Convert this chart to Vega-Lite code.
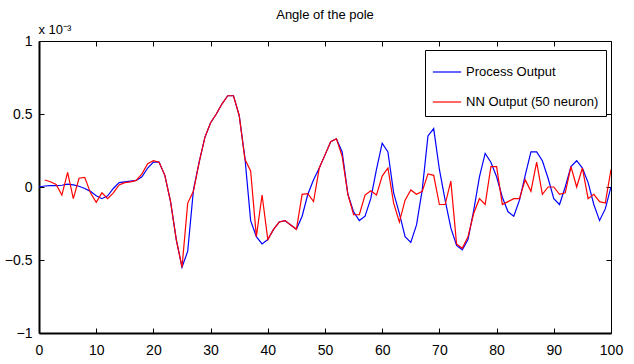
{
  "$schema": "https://vega.github.io/schema/vega-lite/v6.json",
  "width": 572,
  "height": 292,
  "autosize": "none",
  "padding": {"left": 39, "top": 41, "right": 23, "bottom": 31},
  "background": "white",
  "title": {"text": "Angle of the pole", "fontSize": 13, "fontWeight": "normal", "font": "Liberation Sans Narrow, Liberation Sans, Arial", "color": "black", "anchor": "middle", "offset": 1},
  "data": {"values": [
    {"x":0,"p":0.0,"n":null},{"x":1,"p":0.007,"n":0.048},{"x":2,"p":0.01,"n":0.036},{"x":3,"p":0.01,"n":0.018},{"x":4,"p":0.012,"n":-0.055},
    {"x":5,"p":0.02,"n":0.10},{"x":6,"p":0.015,"n":-0.08},{"x":7,"p":0.005,"n":0.06},{"x":8,"p":-0.01,"n":0.066},{"x":9,"p":-0.03,"n":-0.04},
    {"x":10,"p":-0.06,"n":-0.105},{"x":11,"p":-0.08,"n":-0.04},{"x":12,"p":-0.06,"n":-0.08},{"x":13,"p":-0.01,"n":-0.04},{"x":14,"p":0.03,"n":0.014},
    {"x":15,"p":0.035,"n":0.03},{"x":16,"p":0.04,"n":0.035},{"x":17,"p":0.045,"n":0.045},{"x":18,"p":0.07,"n":0.09},{"x":19,"p":0.13,"n":0.16},
    {"x":20,"p":0.17,"n":0.18},{"x":21,"p":0.17,"n":0.17},{"x":22,"p":0.08,"n":0.08},{"x":23,"p":-0.10,"n":-0.10},{"x":24,"p":-0.36,"n":-0.36},
    {"x":25,"p":-0.55,"n":-0.55},{"x":26,"p":-0.44,"n":-0.11},{"x":27,"p":-0.02,"n":-0.03},{"x":28,"p":0.17,"n":0.17},{"x":29,"p":0.34,"n":0.34},
    {"x":30,"p":0.44,"n":0.44},{"x":31,"p":0.50,"n":0.50},{"x":32,"p":0.57,"n":0.57},{"x":33,"p":0.625,"n":0.625},{"x":34,"p":0.625,"n":0.625},
    {"x":35,"p":0.49,"n":0.49},{"x":36,"p":0.20,"n":0.19},{"x":37,"p":-0.23,"n":0.11},{"x":38,"p":-0.34,"n":-0.34},{"x":39,"p":-0.39,"n":-0.055},
    {"x":40,"p":-0.36,"n":-0.36},{"x":41,"p":-0.29,"n":-0.29},{"x":42,"p":-0.24,"n":-0.24},{"x":43,"p":-0.23,"n":-0.23},{"x":44,"p":-0.26,"n":-0.26},
    {"x":45,"p":-0.29,"n":-0.29},{"x":46,"p":-0.20,"n":-0.05},{"x":47,"p":-0.05,"n":-0.045},{"x":48,"p":0.05,"n":-0.10},{"x":49,"p":0.13,"n":0.13},
    {"x":50,"p":0.22,"n":0.22},{"x":51,"p":0.31,"n":0.31},{"x":52,"p":0.33,"n":0.33},{"x":53,"p":0.24,"n":0.21},{"x":54,"p":-0.05,"n":-0.05},
    {"x":55,"p":-0.17,"n":-0.19},{"x":56,"p":-0.23,"n":-0.19},{"x":57,"p":-0.20,"n":-0.055},{"x":58,"p":-0.08,"n":-0.025},{"x":59,"p":0.12,"n":-0.055},
    {"x":60,"p":0.30,"n":0.075},{"x":61,"p":0.24,"n":0.13},{"x":62,"p":-0.04,"n":-0.11},{"x":63,"p":-0.18,"n":-0.24},{"x":64,"p":-0.34,"n":-0.09},
    {"x":65,"p":-0.38,"n":-0.02},{"x":66,"p":-0.26,"n":-0.05},{"x":67,"p":-0.02,"n":-0.03},{"x":68,"p":0.35,"n":0.09},{"x":69,"p":0.40,"n":0.08},
    {"x":70,"p":0.12,"n":-0.12},{"x":71,"p":-0.09,"n":-0.12},{"x":72,"p":-0.28,"n":0.04},{"x":73,"p":-0.40,"n":-0.39},{"x":74,"p":-0.43,"n":-0.42},
    {"x":75,"p":-0.36,"n":-0.34},{"x":76,"p":-0.16,"n":-0.18},{"x":77,"p":0.07,"n":-0.08},{"x":78,"p":0.23,"n":-0.12},{"x":79,"p":0.17,"n":0.14},
    {"x":80,"p":0.07,"n":0.14},{"x":81,"p":-0.07,"n":-0.12},{"x":82,"p":-0.17,"n":-0.10},{"x":83,"p":-0.20,"n":-0.08},{"x":84,"p":-0.09,"n":-0.08},
    {"x":85,"p":0.08,"n":0.05},{"x":86,"p":0.24,"n":-0.03},{"x":87,"p":0.24,"n":0.17},{"x":88,"p":0.18,"n":-0.05},{"x":89,"p":0.06,"n":0.0},
    {"x":90,"p":-0.08,"n":0.0},{"x":91,"p":-0.12,"n":-0.05},{"x":92,"p":0.0,"n":-0.04},{"x":93,"p":0.14,"n":0.14},{"x":94,"p":0.18,"n":0.0},
    {"x":95,"p":0.13,"n":0.13},{"x":96,"p":0.03,"n":-0.08},{"x":97,"p":-0.12,"n":-0.05},{"x":98,"p":-0.23,"n":-0.10},{"x":99,"p":-0.15,"n":-0.11},
    {"x":100,"p":0.0,"n":0.12}
  ]},
  "layer": [
    {
      "mark": {"type": "line", "strokeWidth": 1.2, "clip": true},
      "encoding": {
        "x": {"field": "x", "type": "quantitative", "scale": {"domain": [0, 100], "nice": false, "zero": false},
              "axis": {"orient": "bottom", "title": null, "values": [0,10,20,30,40,50,60,70,80,90,100], "domainWidth": 2, "labelPadding": 15}},
        "y": {"field": "p", "type": "quantitative", "scale": {"domain": [-1, 1], "nice": false, "zero": false},
              "axis": {"orient": "left", "title": "x 10⁻³", "values": [-1,-0.5,0,0.5,1], "format": "~g", "domainWidth": 2, "labelPadding": 12,
                       "titleAngle": 0, "titleAlign": "left", "titleBaseline": "middle", "titleX": -1, "titleY": -12, "titleFontSize": 13, "titleFontWeight": "normal", "titleFont": "Liberation Sans Narrow, Liberation Sans, Arial"}},
        "color": {"datum": "Process Output", "type": "nominal",
                  "scale": {"domain": ["Process Output", "NN Output (50 neuron)"], "range": ["#0000ff", "#ff0000"]},
                  "legend": {"title": null, "orient": "none", "legendX": 386, "legendY": 9}}
      }
    },
    {
      "mark": {"type": "line", "strokeWidth": 1.2, "clip": true},
      "encoding": {
        "x": {"field": "x", "type": "quantitative", "axis": null},
        "y": {"field": "n", "type": "quantitative", "axis": null},
        "color": {"datum": "NN Output (50 neuron)", "type": "nominal"}
      }
    },
    {
      "mark": {"type": "line", "strokeOpacity": 0},
      "encoding": {
        "x": {"field": "x", "type": "quantitative", "axis": {"orient": "top", "title": null, "labels": false, "values": [0,10,20,30,40,50,60,70,80,90,100], "domainWidth": 1}},
        "y": {"field": "p", "type": "quantitative", "axis": {"orient": "right", "title": null, "labels": false, "values": [-1,-0.5,0,0.5,1], "domainWidth": 1}}
      }
    }
  ],
  "resolve": {"axis": {"x": "independent", "y": "independent"}},
  "config": {
    "view": {"stroke": null},
    "axis": {"grid": false, "domainColor": "black", "tickColor": "black", "labelColor": "black", "tickSize": -5, "tickWidth": 1,
             "labelFont": "Liberation Sans Narrow, Liberation Sans, Arial", "labelFontSize": 14, "labelFlush": false, "labelOverlap": false},
    "legend": {"strokeColor": "black", "fillColor": "white", "padding": 7, "symbolType": "stroke", "symbolSize": 800, "symbolStrokeWidth": 1.2,
               "labelFontSize": 13, "labelFont": "Liberation Sans Narrow, Liberation Sans, Arial", "labelColor": "black", "rowPadding": 8, "labelOffset": 4}
  }
}
